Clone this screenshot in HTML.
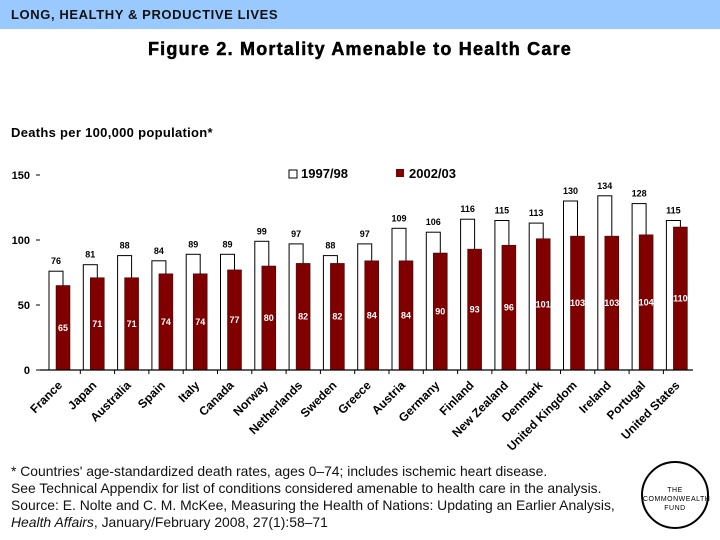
<!DOCTYPE html>
<html><head><meta charset="utf-8"><style>
body{margin:0;width:720px;height:540px;background:#fff;font-family:"Liberation Sans",Arial,sans-serif;position:relative;overflow:hidden}
.hdr{position:absolute;left:0;top:0;width:720px;height:29px;background:#99c9ff}
.hdr span{position:absolute;left:11px;top:7px;font-size:13px;font-weight:bold;color:#111;letter-spacing:0.6px}
.title{position:absolute;left:0;width:720px;top:39px;text-align:center;font-size:18px;font-weight:bold;letter-spacing:1.2px;-webkit-text-stroke:0.5px #000}
.yt{position:absolute;left:11px;top:125px;font-size:13px;font-weight:bold;letter-spacing:0.3px}
.foot{position:absolute;left:11px;top:463px;font-size:13.9px;line-height:17px;color:#111}
.logo{position:absolute;left:641px;top:461px;width:68px;height:68px;border:2px solid #000;border-radius:50%;font-size:7px;text-align:center;box-sizing:border-box;padding-top:23px;line-height:9px;letter-spacing:.5px}
</style></head><body>
<div class="hdr"><span>LONG, HEALTHY &amp; PRODUCTIVE LIVES</span></div>
<div class="title">Figure 2. Mortality Amenable to Health Care</div>
<div class="yt">Deaths per 100,000 population*</div>
<svg id="chart" width="720" height="540" style="position:absolute;left:0;top:0"></svg>
<div class="foot">* Countries' age-standardized death rates, ages 0–74; includes ischemic heart disease.<br>See Technical Appendix for list of conditions considered amenable to health care in the analysis.<br>Source: E. Nolte and C. M. McKee, Measuring the Health of Nations: Updating an Earlier Analysis,<br><i>Health Affairs</i>, January/February 2008, 27(1):58–71</div>
<div class="logo">THE<br>COMMONWEALTH<br>FUND</div>
<script>
const countries=["France","Japan","Australia","Spain","Italy","Canada","Norway","Netherlands","Sweden","Greece","Austria","Germany","Finland","New Zealand","Denmark","United Kingdom","Ireland","Portugal","United States"];
const v9798=[76,81,88,84,89,89,99,97,88,97,109,106,116,115,113,130,134,128,115];
const v0203=[65,71,71,74,74,77,80,82,82,84,84,90,93,96,101,103,103,104,110];
const yTicks=[0,50,100,150];
const svg=document.getElementById('chart');
const NS='http://www.w3.org/2000/svg';
const y0=370,k=1.3,x0=49,pitch=34.3;
const Y=v=>y0-v*k;
const X=i=>x0+i*pitch;
function el(t,a){const e=document.createElementNS(NS,t);for(const n in a)e.setAttribute(n,a[n]);svg.appendChild(e);return e;}
yTicks.forEach(t=>{
 const l=el('line',{x1:36,x2:40,y1:Y(t),y2:Y(t),stroke:'#000'});
 
 
 const tx=el('text',{x:30,y:Y(t)+4,'text-anchor':'end','font-size':11,'font-weight':'bold'});tx.textContent=t;
 
 
});
countries.forEach((c,i)=>{
 const x=X(i);
 const w=el('rect',{x:x,y:Y(v9798[i]),width:14,height:v9798[i]*k,fill:'#fff',stroke:'#000','stroke-width':1});
 
 
 const r=el('rect',{x:x+7,y:Y(v0203[i]),width:14,height:v0203[i]*k,fill:'#800000',stroke:'#300','stroke-width':0.5});
 
 
 const t1=el('text',{x:x+7,y:Y(v9798[i])-7,'text-anchor':'middle','font-size':9,'font-weight':'bold'});t1.textContent=v9798[i];
 
 
 const t2=el('text',{x:x+14,y:Y(v0203[i]/2)+3,'text-anchor':'middle','font-size':9,'font-weight':'bold',fill:'#fff'});t2.textContent=v0203[i];
 
 
 const cx=x+14, cy=386;
 const lb=el('text',{x:cx,y:cy,'text-anchor':'end','font-size':12,'font-weight':'bold',transform:`rotate(-45 ${cx} ${cy})`});lb.textContent=c;
 
 
 if(i>0){const tk=el('line',{x1:x-3,x2:x-3,y1:y0,y2:y0+4,stroke:'#000'});
 
 }
});
const ax=el('line',{x1:40,x2:693,y1:y0,y2:y0,stroke:'#000','stroke-width':1.2});


const lg1=el('rect',{x:289,y:170,width:8,height:8,fill:'#fff',stroke:'#000'});


const lt1=el('text',{x:301,y:178,'font-size':13,'font-weight':'bold'});lt1.textContent='1997/98';


const lg2=el('rect',{x:396,y:169,width:8,height:8,fill:'#800000'});


const lt2=el('text',{x:409,y:178,'font-size':13,'font-weight':'bold'});lt2.textContent='2002/03';


</script>
</body></html>
